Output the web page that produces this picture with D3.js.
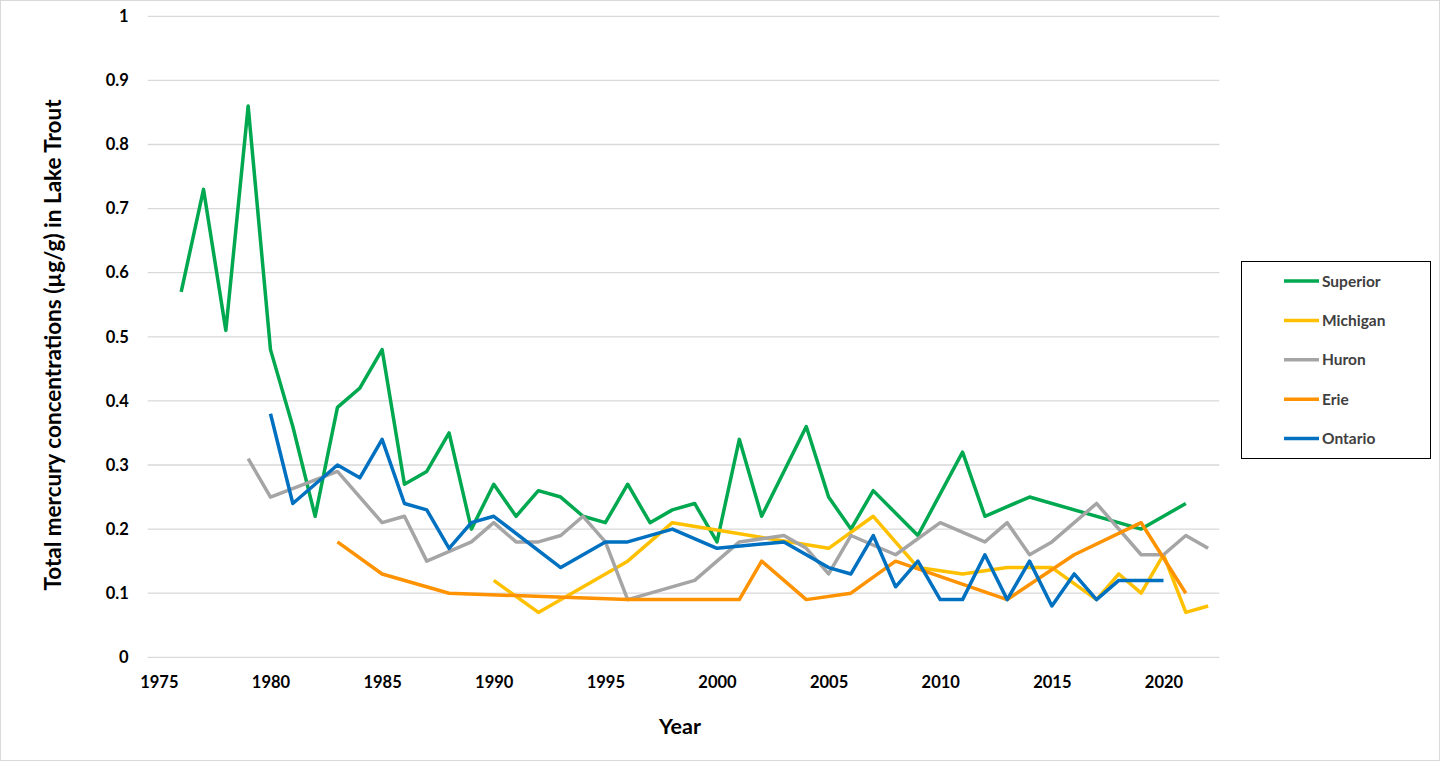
<!doctype html>
<html lang="en">
<head>
<meta charset="utf-8" />
<title>Mercury in Lake Trout</title>
<script src="https://d3js.org/d3.v7.min.js"></script>
<style>
  html, body { margin: 0; padding: 0; background: #fff; }
  #chart { width: 1440px; height: 761px; }
  text { font-family: Lato, "Open Sans", sans-serif; font-weight: bold; }
</style>
</head>
<body>
<div id="chart"></div>
<script>
// values (µg/g), one pair of arrays per lake
var superiorYears = [1976,1977,1978,1979,1980,1981,1982,1983,1984,1985,1986,1987,1988,1989,1990,1991,1992,1993,1994,1995,1996,1997,1998,1999,2000,2001,2002,2004,2005,2006,2007,2009,2011,2012,2014,2019,2021];
var superiorVals  = [0.57,0.73,0.51,0.86,0.48,0.36,0.22,0.39,0.42,0.48,0.27,0.29,0.35,0.20,0.27,0.22,0.26,0.25,0.22,0.21,0.27,0.21,0.23,0.24,0.18,0.34,0.22,0.36,0.25,0.20,0.26,0.19,0.32,0.22,0.25,0.20,0.24];

var michiganYears = [1990,1992,1996,1998,2005,2007,2009,2011,2013,2015,2017,2018,2019,2020,2021,2022];
var michiganVals  = [0.12,0.07,0.15,0.21,0.17,0.22,0.14,0.13,0.14,0.14,0.09,0.13,0.10,0.16,0.07,0.08];

var huronYears = [1979,1980,1983,1985,1986,1987,1989,1990,1991,1992,1993,1994,1995,1996,1999,2001,2003,2004,2005,2006,2008,2010,2012,2013,2014,2015,2017,2019,2020,2021,2022];
var huronVals  = [0.31,0.25,0.29,0.21,0.22,0.15,0.18,0.21,0.18,0.18,0.19,0.22,0.18,0.09,0.12,0.18,0.19,0.17,0.13,0.19,0.16,0.21,0.18,0.21,0.16,0.18,0.24,0.16,0.16,0.19,0.17];

var erieYears = [1983,1985,1988,1996,2001,2002,2004,2006,2008,2013,2016,2019,2021];
var erieVals  = [0.18,0.13,0.10,0.09,0.09,0.15,0.09,0.10,0.15,0.09,0.16,0.21,0.10];

var ontarioYears = [1980,1981,1983,1984,1985,1986,1987,1988,1989,1990,1993,1995,1996,1998,2000,2003,2005,2006,2007,2008,2009,2010,2011,2012,2013,2014,2015,2016,2017,2018,2020];
var ontarioVals  = [0.38,0.24,0.30,0.28,0.34,0.24,0.23,0.17,0.21,0.22,0.14,0.18,0.18,0.20,0.17,0.18,0.14,0.13,0.19,0.11,0.15,0.09,0.09,0.16,0.09,0.15,0.08,0.13,0.09,0.12,0.12];

var lakeNames  = ["Superior", "Michigan", "Huron", "Erie", "Ontario"];
var lakeColors = ["#00A84F", "#FFC000", "#A5A5A5", "#FF9200", "#0070C0"];
var xTicks = [1975,1980,1985,1990,1995,2000,2005,2010,2015,2020];
var yTicks = [0,0.1,0.2,0.3,0.4,0.5,0.6,0.7,0.8,0.9,1];

var series = [
  [superiorYears, superiorVals],
  [michiganYears, michiganVals],
  [huronYears, huronVals],
  [erieYears, erieVals],
  [ontarioYears, ontarioVals]
].map(function(s, i) {
  return { name: lakeNames[i], color: lakeColors[i],
           pts: s[0].map(function(yr, j) { return [yr, s[1][j]]; }) };
});

var W = 1440, H = 761;
var svg = d3.select("#chart").append("svg").attr("width", W).attr("height", H);

// light frame round the whole chart area
svg.append("rect").attr("x", 0.5).attr("y", 0.5).attr("width", W - 1).attr("height", H - 1)
  .attr("fill", "#fff").attr("stroke", "#D9D9D9");

var x = d3.scaleLinear().domain([1974.5, 2022.5]).range([147.7, 1219.3]);
var y = d3.scaleLinear().domain([0, 1]).range([657.3, 16.3]);

// gridlines
svg.append("g").selectAll("line").data(yTicks).enter().append("line")
  .attr("x1", x.range()[0]).attr("x2", x.range()[1])
  .attr("y1", function(d) { return y(d); }).attr("y2", function(d) { return y(d); })
  .attr("stroke", "#D9D9D9").attr("stroke-width", 1.3);

var xAxis = svg.append("g").attr("transform", "translate(0," + y(0) + ")")
  .call(d3.axisBottom(x).tickValues(xTicks).tickFormat(d3.format("d")).tickSize(0).tickPadding(19));
var yAxis = svg.append("g").attr("transform", "translate(" + x.range()[0] + ",0)")
  .call(d3.axisLeft(y).tickValues(yTicks).tickFormat(function(d) { return d3.format("")(+d.toFixed(1)); }).tickSize(0).tickPadding(19));
[xAxis, yAxis].forEach(function(a) {
  a.select(".domain").remove();
  a.selectAll("text").attr("font-size", 16.5).attr("fill", "#000")
    .attr("font-family", "Lato, sans-serif").attr("font-weight", "bold");
});

// lines
var line = d3.line().x(function(d) { return x(d[0]); }).y(function(d) { return y(d[1]); });
svg.append("g").selectAll("path").data(series).enter().append("path")
  .attr("d", function(d) { return line(d.pts); })
  .attr("fill", "none").attr("stroke", function(d) { return d.color; })
  .attr("stroke-width", 3.5).attr("stroke-linejoin", "round");

// axis titles
svg.append("text").attr("transform", "translate(61,345) rotate(-90)")
  .attr("text-anchor", "middle").attr("font-size", 22.5).attr("fill", "#000")
  .text("Total mercury concentrations (µg/g) in Lake Trout");
svg.append("text").attr("x", 680).attr("y", 734).attr("text-anchor", "middle")
  .attr("font-size", 21.5).attr("fill", "#000").text("Year");

// legend
var lg = svg.append("g");
lg.append("rect").attr("x", 1241.5).attr("y", 261.5).attr("width", 189).attr("height", 197)
  .attr("fill", "#fff").attr("stroke", "#000").attr("stroke-width", 1);
var rows = lg.selectAll("g.row").data(series).enter().append("g")
  .attr("transform", function(d, i) { return "translate(0," + (281 + i * 39.4) + ")"; });
rows.append("line").attr("x1", 1284).attr("x2", 1319).attr("y1", 0).attr("y2", 0)
  .attr("stroke", function(d) { return d.color; }).attr("stroke-width", 3.5);
rows.append("text").attr("x", 1322).attr("y", 5.5).attr("font-size", 15.5).attr("fill", "#404040")
  .text(function(d) { return d.name; });
</script>
</body>
</html>
